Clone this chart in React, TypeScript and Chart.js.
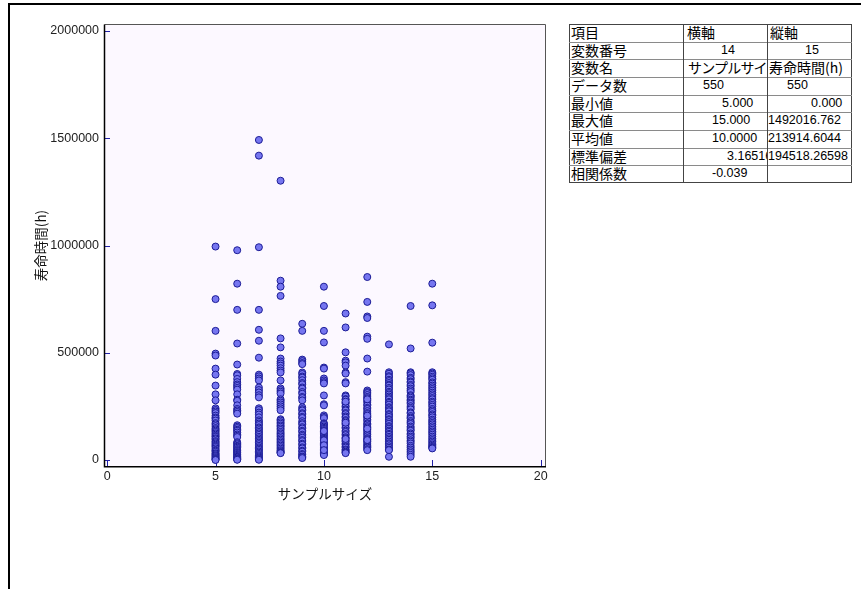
import React, { useEffect, useRef } from "react";
import { Chart, registerables } from "chart.js";
Chart.register(...registerables);

// ---- data ----
const sampleSizes = [5, 6, 7, 8, 9, 10, 11, 12, 13, 14, 15];

const life5 = [995000, 750000, 602000, 496000, 487000, 426000, 398000, 347000, 306000, 278000, 241000, 233000, 226000, 219000, 207000, 198000, 193000, 184000, 172000, 166000, 158000, 149000, 143000, 137000, 131000, 124000, 118000, 112000, 108000, 101000, 96000, 88000, 83000, 77000, 71000, 66000, 61000, 54000, 47000, 43000, 38000, 31000, 27000, 22000, 18000, 13000, 9000, 5000, 2000, 0];
const life6 = [978000, 822000, 700000, 543000, 445000, 401000, 395000, 378000, 363000, 352000, 345000, 336000, 328000, 306000, 281000, 276000, 255000, 238000, 231000, 224000, 216000, 162000, 155000, 149000, 141000, 136000, 128000, 119000, 113000, 107000, 83000, 78000, 73000, 66000, 62000, 57000, 51000, 46000, 42000, 37000, 33000, 28000, 24000, 19000, 15000, 12000, 8000, 5000, 3000, 1000];
const life7 = [1492016, 1419000, 992000, 700000, 607000, 556000, 477000, 398000, 390000, 380000, 371000, 338000, 326000, 315000, 302000, 292000, 241000, 233000, 221000, 212000, 199000, 185000, 178000, 170000, 163000, 152000, 147000, 139000, 131000, 124000, 117000, 108000, 101000, 94000, 88000, 81000, 74000, 66000, 59000, 53000, 47000, 40000, 34000, 28000, 22000, 17000, 12000, 8000, 4000, 1000];
const life8 = [1302000, 836000, 808000, 765000, 567000, 525000, 473000, 459000, 450000, 440000, 428000, 417000, 408000, 371000, 334000, 326000, 318000, 310000, 283000, 276000, 268000, 259000, 250000, 241000, 232000, 190000, 184000, 176000, 169000, 161000, 155000, 147000, 140000, 131000, 124000, 117000, 110000, 102000, 95000, 88000, 81000, 74000, 67000, 60000, 53000, 46000, 41000, 37000, 34000, 32000];
const life9 = [635000, 602000, 468000, 461000, 452000, 447000, 408000, 401000, 389000, 384000, 372000, 359000, 353000, 338000, 333000, 317000, 309000, 294000, 289000, 278000, 246000, 237000, 231000, 218000, 213000, 201000, 196000, 181000, 172000, 166000, 153000, 147000, 136000, 131000, 118000, 112000, 104000, 93000, 88000, 76000, 71000, 59000, 54000, 43000, 39000, 28000, 24000, 16000, 13000, 9000];
const life10 = [808000, 718000, 602000, 548000, 431000, 426000, 380000, 371000, 363000, 357000, 301000, 260000, 255000, 208000, 201000, 195000, 171000, 168000, 163000, 156000, 150000, 145000, 139000, 133000, 127000, 122000, 117000, 111000, 104000, 99000, 94000, 89000, 83000, 77000, 72000, 66000, 61000, 57000, 52000, 48000, 43000, 38000, 34000, 31000, 27000, 23000, 135000, 92000, 69000, 46000];
const life11 = [683000, 618000, 502000, 463000, 455000, 440000, 408000, 403000, 363000, 357000, 301000, 296000, 284000, 281000, 268000, 263000, 252000, 247000, 236000, 231000, 219000, 214000, 203000, 197000, 186000, 181000, 170000, 164000, 153000, 148000, 137000, 131000, 121000, 116000, 106000, 101000, 91000, 86000, 77000, 72000, 63000, 58000, 49000, 45000, 39000, 35000, 32000, 174000, 98000, 272000];
const life12 = [853000, 737000, 669000, 662000, 575000, 565000, 473000, 412000, 324000, 317000, 312000, 303000, 294000, 288000, 276000, 270000, 259000, 254000, 243000, 238000, 228000, 219000, 214000, 203000, 198000, 189000, 182000, 171000, 166000, 158000, 152000, 141000, 135000, 126000, 119000, 111000, 102000, 97000, 88000, 84000, 75000, 69000, 62000, 58000, 51000, 46000, 146000, 207000, 283000, 93000];
const life13 = [539000, 409000, 402000, 391000, 386000, 374000, 368000, 359000, 351000, 347000, 336000, 329000, 318000, 312000, 305000, 296000, 289000, 283000, 271000, 266000, 258000, 246000, 241000, 233000, 227000, 214000, 209000, 201000, 190000, 186000, 177000, 169000, 158000, 153000, 146000, 137000, 131000, 122000, 117000, 108000, 101000, 94000, 86000, 78000, 73000, 64000, 57000, 49000, 46000, 15000];
const life14 = [718000, 520000, 409000, 404000, 396000, 383000, 377000, 366000, 361000, 350000, 344000, 333000, 325000, 317000, 302000, 297000, 290000, 281000, 276000, 268000, 262000, 251000, 243000, 236000, 222000, 217000, 205000, 198000, 193000, 182000, 175000, 168000, 156000, 149000, 141000, 136000, 124000, 118000, 109000, 102000, 92000, 85000, 77000, 66000, 58000, 49000, 41000, 33000, 24000, 15000];
const life15 = [822000, 721000, 547000, 409000, 403000, 397000, 388000, 381000, 374000, 362000, 356000, 347000, 339000, 331000, 323000, 314000, 306000, 298000, 289000, 283000, 272000, 266000, 257000, 249000, 238000, 231000, 224000, 213000, 207000, 199000, 188000, 181000, 173000, 166000, 157000, 149000, 141000, 133000, 126000, 118000, 109000, 101000, 93000, 86000, 79000, 72000, 66000, 61000, 57000, 54000];

const lifeBySize = [life5, life6, life7, life8, life9, life10, life11, life12, life13, life14, life15];

const xTickValues = [0, 5, 10, 15, 20];
const yTickValues = [0, 500000, 1000000, 1500000, 2000000];
const xTitle = "サンプルサイズ";
const yTitle = "寿命時間(h)";

const tableItems = ["項目", "変数番号", "変数名", "データ数", "最小値", "最大値", "平均値", "標準偏差", "相関係数"];
const tableXAxis = ["横軸", "14", "サンプルサイズ", "550", "5.000", "15.000", "10.0000", "3.16516", "-0.039"];
const tableYAxis = ["縦軸", "15", "寿命時間(h)", "550", "0.000", "1492016.762", "213914.6044", "194518.26598", ""];

// ---- layout constants ----
const NUM_FONT = '"Liberation Sans", "Noto Sans CJK JP", sans-serif';
const CJK_FONT = '"Noto Sans CJK JP", "Liberation Sans", sans-serif';
const TBL_LEFT = 569;
const TBL_TOP = 24;
const COL_EDGES = [569, 683, 767, 852];
const ROW_H = 17.67;
const COL2_TEXT_X = [687, 721, 688, 703, 722, 712, 712, 727, 712];
const COL3_TEXT_X = [770, 805, 769, 787, 811, 768, 768, 768, 768];

const framePlugin = {
  id: "frame",
  beforeDatasetsDraw(chart: any) {
    const { ctx, chartArea: a, scales } = chart;
    ctx.save();
    ctx.fillStyle = "#fcf8ff";
    ctx.fillRect(a.left, a.top, a.right - a.left, a.bottom - a.top);
    ctx.strokeStyle = "#2020a8";
    ctx.lineWidth = 1;
    ctx.beginPath();
    for (const v of yTickValues) {
      const py = Math.round(scales.y.getPixelForValue(v)) + 0.5;
      ctx.moveTo(a.left, py);
      ctx.lineTo(a.left + 5, py);
    }
    for (const v of xTickValues) {
      const px = Math.round(scales.x.getPixelForValue(v)) + 0.5;
      ctx.moveTo(px, a.bottom);
      ctx.lineTo(px, a.bottom - 6);
    }
    ctx.stroke();
    ctx.restore();
  },
  afterDatasetsDraw(chart: any) {
    const { ctx, chartArea: a } = chart;
    ctx.save();
    ctx.lineWidth = 1;
    ctx.strokeStyle = "#555";
    ctx.beginPath();
    ctx.moveTo(a.left - 0.5, a.top - 0.5);
    ctx.lineTo(a.right + 0.5, a.top - 0.5);
    ctx.lineTo(a.right + 0.5, a.bottom);
    ctx.stroke();
    ctx.strokeStyle = "#000";
    ctx.lineWidth = 1.5;
    ctx.beginPath();
    ctx.moveTo(a.left - 0.5, a.top - 0.5);
    ctx.lineTo(a.left - 0.5, a.bottom + 0.75);
    ctx.lineTo(a.right + 1, a.bottom + 0.75);
    ctx.stroke();
    ctx.restore();
  },
};

const isCJK = (s: string) => /[^\x00-\x7F]/.test(s);

export default function App() {
  const ref = useRef<HTMLCanvasElement>(null);

  useEffect(() => {
    const canvas = ref.current;
    if (!canvas) return;
    const points = lifeBySize.flatMap((arr, i) => arr.map((v) => ({ x: sampleSizes[i], y: v })));
    const chart = new Chart(canvas, {
      type: "scatter",
      data: {
        datasets: [
          {
            data: points,
            pointRadius: 3.5,
            pointHoverRadius: 3.5,
            pointBackgroundColor: "rgb(118,118,240)",
            pointBorderColor: "rgb(28,28,150)",
            pointBorderWidth: 1,
          },
        ],
      },
      options: {
        animation: false,
        responsive: false,
        devicePixelRatio: 1,
        events: [],
        layout: { padding: { left: 0, top: 25, right: 316, bottom: 83 } },
        plugins: { legend: { display: false }, tooltip: { enabled: false } },
        scales: {
          x: {
            type: "linear",
            min: -0.1,
            max: 20.2,
            afterBuildTicks: (s: any) => {
              s.ticks = xTickValues.map((v) => ({ value: v }));
            },
            afterFit: (s: any) => {
              s.height = 40;
            },
            grid: { display: false, drawTicks: false },
            border: { display: false },
            ticks: {
              padding: 3,
              color: "#222",
              autoSkip: false,
              maxRotation: 0,
              font: { family: NUM_FONT, size: 12.5 },
              callback: (v: any) => String(v),
            },
            title: {
              display: true,
              text: xTitle,
              color: "#111",
              font: { family: CJK_FONT, size: 13.5 },
              padding: { top: 0, bottom: 4 },
            },
          },
          y: {
            type: "linear",
            min: -28000,
            max: 2028000,
            afterBuildTicks: (s: any) => {
              s.ticks = yTickValues.map((v) => ({ value: v }));
            },
            afterFit: (s: any) => {
              s.width = 105;
            },
            grid: { display: false, drawTicks: false },
            border: { display: false },
            ticks: {
              padding: 6,
              color: "#222",
              autoSkip: false,
              font: { family: NUM_FONT, size: 12.5 },
              callback: (v: any) => String(v),
            },
            title: {
              display: true,
              text: yTitle,
              color: "#111",
              font: { family: CJK_FONT, size: 13.5 },
              padding: { top: 33, bottom: 0 },
            },
          },
        },
      },
      plugins: [framePlugin],
    });
    return () => chart.destroy();
  }, []);

  const cellStyle = (left: number, right: number, row: number, text: string): React.CSSProperties => {
    const cjk = isCJK(text);
    return {
      position: "absolute",
      left,
      top: TBL_TOP + row * ROW_H,
      width: right - left,
      height: ROW_H,
      lineHeight: ROW_H + "px",
      overflow: "hidden",
      whiteSpace: "nowrap",
      fontFamily: cjk ? CJK_FONT : NUM_FONT,
      fontSize: cjk ? 14 : 12.5,
      letterSpacing: text === "サンプルサイズ" ? -0.8 : 0,
      color: "#000",
    };
  };

  return (
    <div style={{ position: "absolute", left: 0, top: 0, width: 861, height: 589, overflow: "hidden", background: "#fff" }}>
      <div
        style={{
          position: "absolute",
          left: 8,
          top: 3,
          width: 900,
          height: 700,
          borderTop: "2px solid #000",
          borderLeft: "2px solid #000",
        }}
      />
      <canvas ref={ref} width={861} height={589} style={{ position: "absolute", left: 0, top: 0 }} />
      {/* statistics table */}
      <div
        style={{
          position: "absolute",
          left: TBL_LEFT,
          top: TBL_TOP,
          width: COL_EDGES[3] - COL_EDGES[0],
          height: ROW_H * tableItems.length,
          boxSizing: "border-box",
          border: "1.5px solid #444",
          background: "#fff",
        }}
      />
      {tableItems.slice(1).map((_, i) => (
        <div
          key={"h" + i}
          style={{
            position: "absolute",
            left: COL_EDGES[0],
            top: Math.round(TBL_TOP + (i + 1) * ROW_H),
            width: COL_EDGES[3] - COL_EDGES[0],
            height: 1,
            background: "#8a8a8a",
          }}
        />
      ))}
      {[COL_EDGES[1], COL_EDGES[2]].map((x, i) => (
        <div
          key={"v" + i}
          style={{ position: "absolute", left: x, top: TBL_TOP, width: 1, height: ROW_H * tableItems.length, background: "#444" }}
        />
      ))}
      {tableItems.map((t, r) => (
        <div key={"a" + r} style={cellStyle(COL_EDGES[0] + 2, COL_EDGES[1], r, t)}>
          {t}
        </div>
      ))}
      {tableXAxis.map((t, r) => (
        <div key={"b" + r} style={cellStyle(COL2_TEXT_X[r], COL_EDGES[2], r, t)}>
          {t}
        </div>
      ))}
      {tableYAxis.map((t, r) => (
        <div key={"c" + r} style={cellStyle(COL3_TEXT_X[r], COL_EDGES[3] - 2, r, t)}>
          {t}
        </div>
      ))}
    </div>
  );
}
